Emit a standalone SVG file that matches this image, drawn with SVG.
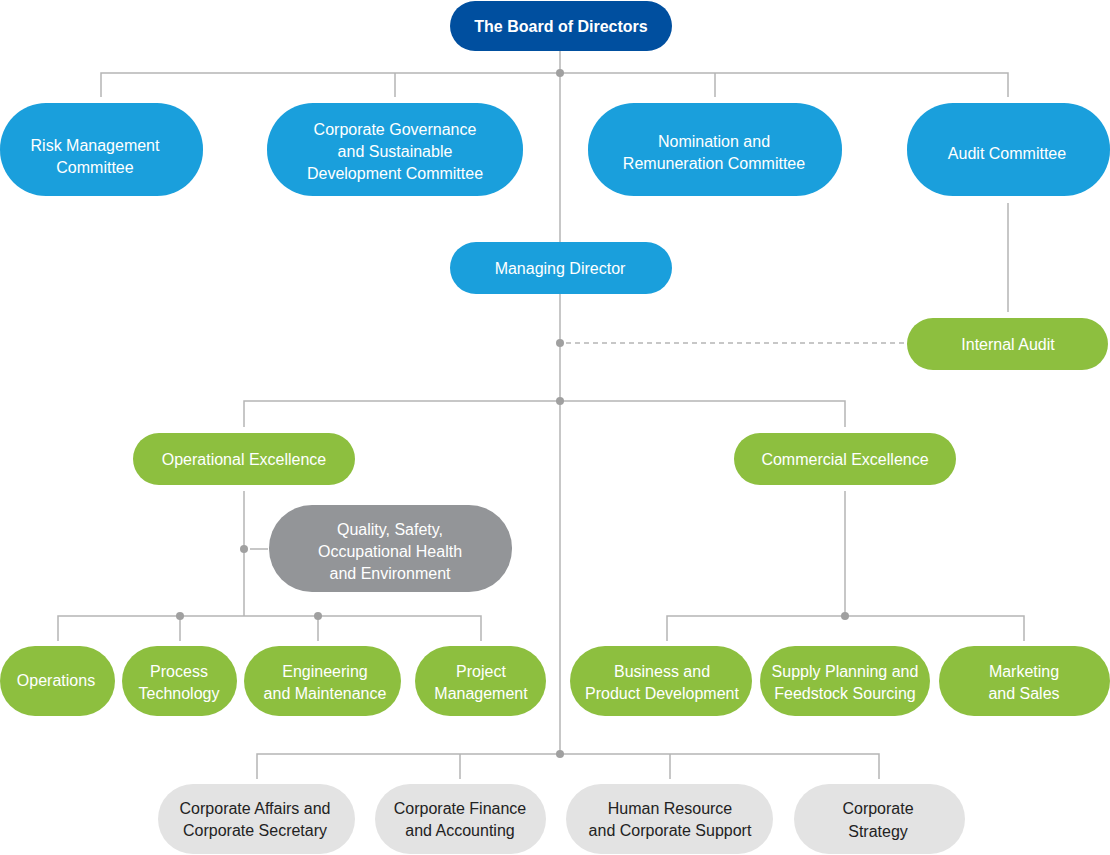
<svg xmlns="http://www.w3.org/2000/svg" width="1110" height="855" viewBox="0 0 1110 855">
<style>
.c{stroke:#b5b5b5;stroke-width:1.5;fill:none}
.d{fill:#a0a0a0}
text{font-family:"Liberation Sans",Arial,sans-serif;font-size:16px;text-anchor:middle;fill:#fff}
.dk{fill:#222}
.navy{fill:#004f9f}.blue{fill:#1a9fdc}.green{fill:#8dbf3f}.gray{fill:#939598}.lg{fill:#e3e3e3}
</style>
<rect width="1110" height="855" fill="#fff"/>
<g id="connectors">
<path class="c" d="M101 97V73H1008V97M395 73V97M715 73V97M560 51V242M1008 203V312M560 294V754M244 427V401H845V427M244 491V616M250 549H268M58 641V616H481V641M180 616V641M318 616V641M845 491V616M667 641V616H1024V641M257 779V754H879V779M460 754V779M670 754V779"/>
<path class="c" d="M566 343H907" stroke-dasharray="5 4"/>
<circle class="d" cx="560" cy="73" r="4"/><circle class="d" cx="560" cy="343" r="4"/><circle class="d" cx="560" cy="401" r="4"/><circle class="d" cx="244" cy="549" r="4"/><circle class="d" cx="180" cy="616" r="4"/><circle class="d" cx="318" cy="616" r="4"/><circle class="d" cx="845" cy="616" r="4"/><circle class="d" cx="560" cy="754" r="4"/>
</g>
<g id="board"><rect class="navy" x="450" y="1" width="222" height="50" rx="25"/><text x="561" y="32" font-weight="bold">The Board of Directors</text></g>
<g id="risk"><rect class="blue" x="0" y="103" width="203" height="93" rx="46"/><text x="95" y="151">Risk Management</text><text x="95" y="173">Committee</text></g>
<g id="cgsd"><rect class="blue" x="267" y="103" width="256" height="93" rx="46"/><text x="395" y="135">Corporate Governance</text><text x="395" y="157">and Sustainable</text><text x="395" y="179">Development Committee</text></g>
<g id="nom"><rect class="blue" x="588" y="103" width="254" height="93" rx="46"/><text x="714" y="147">Nomination and</text><text x="714" y="169">Remuneration Committee</text></g>
<g id="audit"><rect class="blue" x="907" y="103" width="203" height="93" rx="46"/><text x="1007" y="159">Audit Committee</text></g>
<g id="md"><rect class="blue" x="450" y="242" width="222" height="52" rx="26"/><text x="560" y="274">Managing Director</text></g>
<g id="ia"><rect class="green" x="907" y="318" width="201" height="52" rx="26"/><text x="1008" y="350">Internal Audit</text></g>
<g id="opex"><rect class="green" x="133" y="433" width="222" height="52" rx="26"/><text x="244" y="465">Operational Excellence</text></g>
<g id="comex"><rect class="green" x="734" y="433" width="222" height="52" rx="26"/><text x="845" y="465">Commercial Excellence</text></g>
<g id="qshe"><rect class="gray" x="269" y="505" width="243" height="87" rx="43"/><text x="390" y="535">Quality, Safety,</text><text x="390" y="557">Occupational Health</text><text x="390" y="579">and Environment</text></g>
<g id="ops"><rect class="green" x="0" y="646" width="115" height="70" rx="35"/><text x="56" y="686">Operations</text></g>
<g id="pt"><rect class="green" x="122" y="646" width="115" height="70" rx="35"/><text x="179" y="677">Process</text><text x="179" y="699">Technology</text></g>
<g id="em"><rect class="green" x="244" y="646" width="157" height="70" rx="35"/><text x="325" y="677">Engineering</text><text x="325" y="699">and Maintenance</text></g>
<g id="pm"><rect class="green" x="415" y="646" width="131" height="70" rx="35"/><text x="481" y="677">Project</text><text x="481" y="699">Management</text></g>
<g id="bpd"><rect class="green" x="570" y="646" width="182" height="70" rx="35"/><text x="662" y="677">Business and</text><text x="662" y="699">Product Development</text></g>
<g id="sp"><rect class="green" x="760" y="646" width="170" height="70" rx="35"/><text x="845" y="677">Supply Planning and</text><text x="845" y="699">Feedstock Sourcing</text></g>
<g id="ms"><rect class="green" x="939" y="646" width="171" height="70" rx="35"/><text x="1024" y="677">Marketing</text><text x="1024" y="699">and Sales</text></g>
<g id="cacs"><rect class="lg" x="158" y="784" width="197" height="70" rx="35"/><text class="dk" x="255" y="814">Corporate Affairs and</text><text class="dk" x="255" y="836">Corporate Secretary</text></g>
<g id="cfa"><rect class="lg" x="375" y="784" width="171" height="70" rx="35"/><text class="dk" x="460" y="814">Corporate Finance</text><text class="dk" x="460" y="836">and Accounting</text></g>
<g id="hr"><rect class="lg" x="566" y="784" width="207" height="70" rx="35"/><text class="dk" x="670" y="814">Human Resource</text><text class="dk" x="670" y="836">and Corporate Support</text></g>
<g id="cs"><rect class="lg" x="794" y="784" width="171" height="70" rx="35"/><text class="dk" x="878" y="814">Corporate</text><text class="dk" x="878" y="837">Strategy</text></g>
</svg>
